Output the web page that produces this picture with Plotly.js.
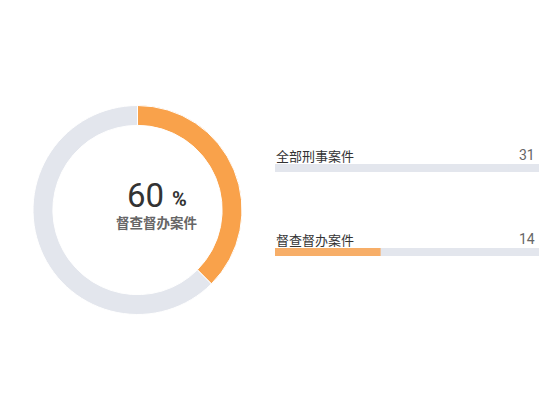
<!DOCTYPE html>
<html>
<head>
<meta charset="utf-8">
<script src="https://cdn.plot.ly/plotly-3.0.1.min.js"></script>
<style>html,body{margin:0;padding:0;background:#fff;}#chart{width:550px;height:420px;}</style>
</head>
<body>
<div id="chart"></div>
<script>
// ---- data ----
const ringLabels = ['督查督办案件', '其他'];
const ringValues = [37.5, 62.5];
const centerValue = '60';
const centerUnit = '%';
const centerLabel = '督查督办案件';
const barCategories = ['全部刑事案件', '督查督办案件'];
const barValues = [31, 14];
const barMax = 35;

// ---- styles ----
const ORANGE = '#F9A24B';
const BAR_ORANGE = '#F7AE68';
const GRAY = '#E3E6ED';
const CJK = '"Noto Sans CJK SC", "Noto Sans", sans-serif';
const LATIN = 'Roboto, "Liberation Sans", sans-serif';

const pie = {
  type: 'pie',
  labels: ringLabels,
  values: ringValues,
  hole: 0.81,
  sort: false,
  direction: 'clockwise',
  rotation: 0,
  textinfo: 'none',
  hoverinfo: 'none',
  showlegend: false,
  marker: {colors: [ORANGE, GRAY], line: {color: '#ffffff', width: 1}},
  domain: {x: [0.06, 0.44], y: [0.2512, 0.7488]}
};

const bgBars = {
  type: 'bar', orientation: 'h',
  y: barCategories,
  x: barCategories.map(() => barMax),
  xaxis: 'x', yaxis: 'y',
  marker: {color: GRAY},
  width: 0.095,
  hoverinfo: 'none', showlegend: false
};
const valBars = {
  type: 'bar', orientation: 'h',
  y: barCategories,
  x: barValues,
  xaxis: 'x', yaxis: 'y',
  marker: {color: barValues.map((v, i) => i === 0 ? GRAY : BAR_ORANGE)},
  width: 0.095,
  hoverinfo: 'none', showlegend: false
};

const annotations = [];
barCategories.forEach((c, i) => {
  annotations.push({xref: 'x', yref: 'y', x: 0, y: c, text: c, showarrow: false,
    xanchor: 'left', yanchor: 'middle', yshift: 13, xshift: -1,
    font: {family: CJK, size: 13, color: '#333333'}});
  annotations.push({xref: 'x', yref: 'y', x: barMax, y: c, text: String(barValues[i]), showarrow: false,
    xanchor: 'right', yanchor: 'middle', yshift: 13, xshift: -2,
    font: {family: LATIN, size: 14, color: '#666666'}});
});
annotations.push({xref: 'paper', yref: 'paper', x: 145 / 550, y: 1 - 195 / 420, text: centerValue,
  showarrow: false, xanchor: 'center', yanchor: 'middle',
  font: {family: LATIN, size: 33, color: '#333333', weight: 400}});
annotations.push({xref: 'paper', yref: 'paper', x: 179 / 550, y: 1 - 199 / 420, text: centerUnit,
  showarrow: false, xanchor: 'center', yanchor: 'middle',
  font: {family: LATIN, size: 20, color: '#333333', weight: 700}});
annotations.push({xref: 'paper', yref: 'paper', x: 157 / 550, y: 1 - 222 / 420, text: centerLabel,
  showarrow: false, xanchor: 'center', yanchor: 'middle',
  font: {family: CJK, size: 13.5, color: '#666666', weight: 700}});

const layout = {
  width: 550, height: 420,
  margin: {l: 0, r: 0, t: 0, b: 0},
  paper_bgcolor: '#ffffff', plot_bgcolor: '#ffffff',
  barmode: 'overlay',
  xaxis: {domain: [275 / 550, 539 / 550], range: [0, barMax], visible: false, fixedrange: true},
  yaxis: {domain: [0.3, 0.7], range: [-0.5, 1.5], type: 'category',
    categoryorder: 'array', categoryarray: barCategories.slice().reverse(), visible: false, fixedrange: true},
  annotations: annotations
};

Plotly.newPlot('chart', [pie, bgBars, valBars], layout, {displayModeBar: false, staticPlot: true});
</script>
</body>
</html>
